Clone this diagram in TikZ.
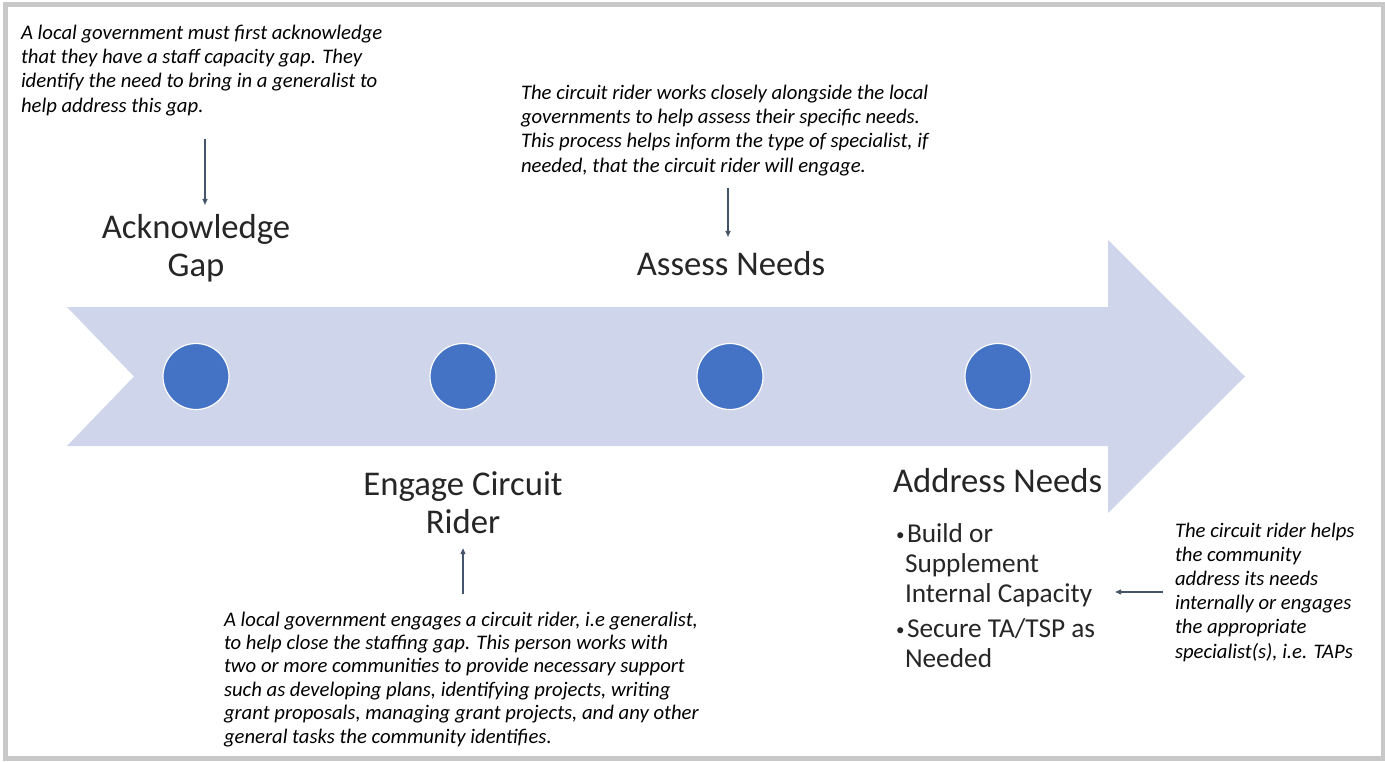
\documentclass[tikz,border=0pt]{standalone}
\usepackage{fontspec}
\setmainfont{Carlito}
\usepackage{xcolor}
\usepackage{tikz}
\usetikzlibrary{arrows.meta,positioning,calc}

\definecolor{bandfill}{HTML}{CFD5EA}
\definecolor{dotfill}{HTML}{4472C4}
\definecolor{linkcol}{HTML}{44546A}
\definecolor{framecol}{HTML}{C8C8C8}
\definecolor{headcol}{HTML}{262626}

% small bullet used in the last step's list
\newcommand{\listdot}{\makebox[11pt][l]{\raisebox{2pt}{\fontsize{17}{17}\selectfont •}}}

\begin{document}
\begin{tikzpicture}[x=1pt, y=-1pt, >={Triangle[length=6pt,width=5pt]},
        every node/.style={inner sep=0pt, outer sep=0pt},
        heading/.style={font=\fontsize{34.7}{38}\selectfont, text=headcol, align=center},
        note/.style={font=\fontsize{20.7}{24.2}\selectfont\itshape, align=left, anchor=base west},
        dot/.style={circle, fill=dotfill, draw=white, line width=1.2pt, minimum size=66pt},
        link/.style={->, linkcol, line width=1.1pt}]
        \useasboundingbox (0,0) rectangle (1385,761);
        \fill[white] (0,0) rectangle (1385,761);
        \draw[framecol, line width=5pt] (5,4.5) rectangle (1383,758.5);

        % Timeline band with notched tail
        \fill[bandfill] (67,307) -- (1108,307) -- (1108,240) -- (1245,376.5)
            -- (1108,513) -- (1108,446) -- (67,446) -- (134,376.5) -- cycle;
        \foreach \x/\n in {196/1,463/2,730/3,998/4} {
            \node[dot] (dot\n) at (\x,376.5) {};
        }

        % Step titles (placed by the baseline of their last line)
        \node[heading, anchor=base] (headGap) at (196,276) {Acknowledge\\Gap};
        \node[heading, anchor=base] (headEngage) at (463,533) {Engage Circuit\\Rider};
        \node[heading, anchor=base] (headAssess) at (731,275) {Assess Needs};
        \node[heading, anchor=base west] (headAddress) at (893,492) {Address Needs};
        \node[font=\fontsize{27.3}{30}\selectfont, text=headcol, align=left, anchor=base west] (bullets) at (896,667)
            {\listdot Build or\\\hspace*{9pt}Supplement\\\hspace*{9pt}Internal Capacity\\[5pt]\listdot Secure TA/TSP as\\\hspace*{9pt}Needed};

        % Explanatory notes
        \node[note] (noteGap) at (21,112) {A local government must first acknowledge\\that they have a staff capacity gap. They\\identify the need to bring in a generalist to\\help address this gap.};
        \node[note] (noteAssess) at (521,172) {The circuit rider works closely alongside the local\\governments to help assess their specific needs.\\This process helps inform the type of specialist, if\\needed, that the circuit rider will engage.};
        \node[note, font=\fontsize{20.7}{23.4}\selectfont\itshape] (noteEngage) at (224,743) {A local government engages a circuit rider, i.e generalist,\\to help close the staffing gap. This person works with\\two or more communities to provide necessary support\\such as developing plans, identifying projects, writing\\grant proposals, managing grant projects, and any other\\general tasks the community identifies.};
        \node[note] (noteAddress) at (1175,658) {The circuit rider helps\\the community\\address its needs\\internally or engages\\the appropriate\\specialist(s), i.e. TAPs};

        % Pointers from notes to steps
        \coordinate (linkGap) at ([xshift=9pt,yshift=9pt]headGap.north);
        \draw[link, shorten <=23pt] (noteGap.south -| linkGap) -- (linkGap);
        \coordinate (linkAssess) at ([xshift=-3pt,yshift=14pt]headAssess.north);
        \draw[link, shorten <=12pt] (noteAssess.south -| linkAssess) -- (linkAssess);
        \coordinate (linkEngage) at ([yshift=-15pt]headEngage.south);
        \draw[link, shorten <=18pt] (noteEngage.north -| linkEngage) -- (linkEngage);
        \draw[link, shorten <=12pt, shorten >=20pt] (noteAddress.west) -- (bullets.east |- noteAddress.west);
    \end{tikzpicture}
\end{document}
